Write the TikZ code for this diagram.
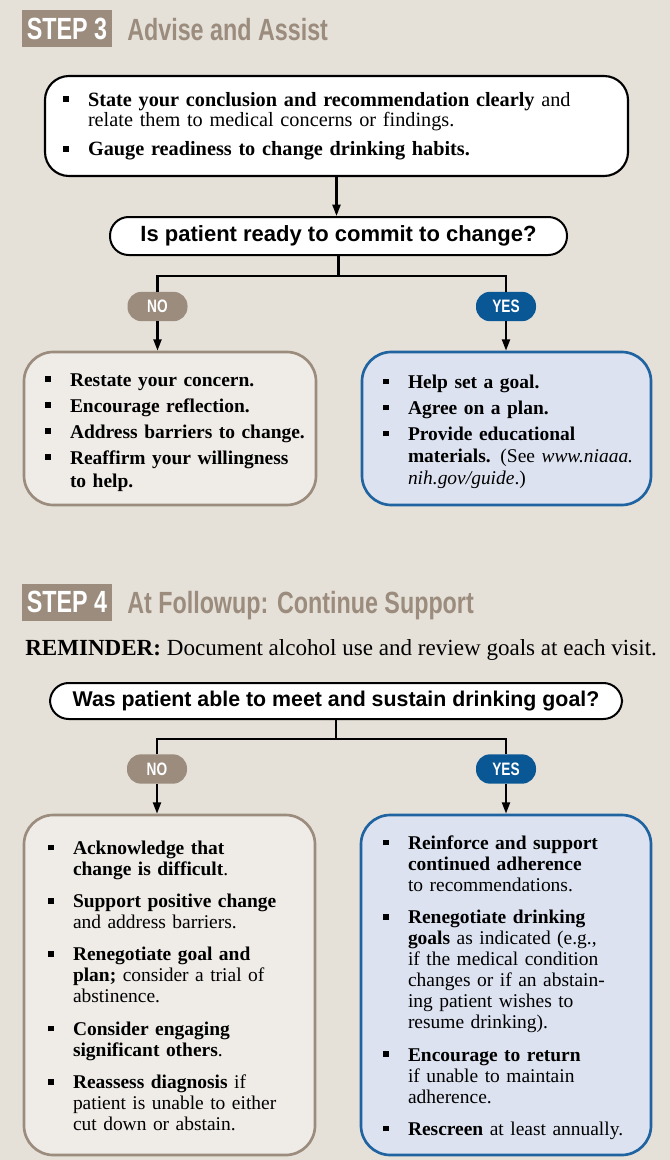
\documentclass[tikz,border=0pt]{standalone}
\usepackage{fontspec}
\setmainfont{Liberation Serif}
\newfontfamily\headfont[FakeStretch=0.76]{Liberation Sans}
\newfontfamily\askfont{Liberation Sans}
\usetikzlibrary{arrows.meta,positioning}
\definecolor{paper}{RGB}{229,225,217}
\definecolor{taupe}{RGB}{155,140,126}
\definecolor{navy}{RGB}{10,87,150}
\definecolor{nofill}{RGB}{239,236,232}
\definecolor{yesfill}{RGB}{220,226,239}
\definecolor{yesline}{RGB}{31,99,160}
\newcommand\bul{\makebox[18.75pt][l]{\raisebox{0.2em}{\rule{4.3pt}{4.3pt}}}}
\newcommand\itm[1]{\par\noindent\bul\begin{tabular}[t]{@{}l@{}}#1\end{tabular}}
\newcommand\gap[1]{\par\vspace{#1}}
\newcommand\bodyfont[1]{\fontsize{14.6pt}{#1}\selectfont}
\tikzset{
  tag/.style={fill=taupe, text=white, inner sep=0pt, minimum width=67.5pt, minimum height=27.75pt,
    font=\headfont\bfseries\fontsize{23pt}{26pt}\selectfont},
  headline/.style={text=taupe, inner sep=0pt, anchor=base west,
    font=\headfont\bfseries\fontsize{23pt}{26pt}\selectfont},
  ask/.style={draw, line width=1.5pt, fill=white, rounded corners=14pt, inner sep=0pt,
    font=\askfont\bfseries\fontsize{16.5pt}{18pt}\selectfont},
  pill/.style={text=white, rounded corners=10.5pt, inner sep=0pt, minimum width=45pt, minimum height=22pt,
    font=\headfont\bfseries\fontsize{13.5pt}{15pt}\selectfont},
  nopill/.style={pill, fill=taupe},
  yespill/.style={pill, fill=navy},
  panel/.style={align=left, inner ysep=0pt, rounded corners=22pt, line width=2pt},
  nopanel/.style={panel, draw=taupe, fill=nofill},
  yespanel/.style={panel, draw=yesline, fill=yesfill},
  link/.style={line width=1.6pt},
  into/.style={link, -{Triangle[length=8.5pt,width=6pt]}}
}
\begin{document}
\begin{tikzpicture}[x=0.75pt, y=-0.75pt]
%%%%% START %%%%%
\fill[paper] (0,0) rectangle (670,1160);
\useasboundingbox (0,0) rectangle (670,1160);

% step 3
\node[tag] (tag3) at (67,28.5) {STEP 3};
\node[headline] (title3) at (127,40) {Advise and Assist};

\node[panel, draw=black, fill=white, line width=1.6pt, rounded corners=18pt, inner xsep=13.5pt,
  text width=410.25pt, minimum height=75pt, font=\fontsize{15.2pt}{15pt}\selectfont] (advise) at (336.5,126) {%
  \itm{\textbf{State your conclusion and recommendation clearly} and\\relate them to medical concerns or findings.}\gap{6pt}
  \itm{\textbf{Gauge readiness to change drinking habits.}}\vspace{3pt}};

\node[ask, minimum width=342.75pt, minimum height=28.5pt] (q1) at (338.5,236) {Is patient ready to commit to change?};
\draw[into] (advise.south) -- (advise.south |- q1.north);

\node[nopill] (no1) at (157.5,306.5) {NO};
\node[yespill] (yes1) at (506,306.5) {YES};
\draw[link] (q1.south) -- ++(0,20) coordinate (fork1);
\draw[link] (no1.north) |- (fork1) -| (yes1.north);

\node[nopanel, inner xsep=15.75pt, text width=187.5pt, minimum height=114.75pt, font=\bodyfont{17.25pt}] (nobox1) at (170,428.5) {%
  \itm{\textbf{Restate your concern.}}\gap{2.25pt}
  \itm{\textbf{Encourage reflection.}}\gap{2.25pt}
  \itm{\textbf{Address barriers to change.}}\gap{2.25pt}
  \itm{\textbf{Reaffirm your willingness}\\\textbf{to help.}}};
\node[yespanel, inner xsep=15.75pt, text width=185.25pt, minimum height=114.75pt, font=\bodyfont{16.5pt}] (yesbox1) at (506.5,428.5) {%
  \itm{\textbf{Help set a goal.}}\gap{3pt}
  \itm{\textbf{Agree on a plan.}}\gap{3pt}
  \itm{\textbf{Provide educational}\\\textbf{materials.} (See \emph{www.niaaa.}\\\emph{nih.gov/guide}.)}};
\draw[into] (no1.south) -- (no1.south |- nobox1.north);
\draw[into] (yes1.south) -- (yes1.south |- yesbox1.north);

% step 4
\node[tag] (tag4) at (67,602) {STEP 4};
\node[headline] (title4) at (127,613) {At Followup: Continue Support};
\node[anchor=base west, inner sep=0pt, font=\fontsize{17.3pt}{20pt}\selectfont] (remind) at (25,655)
  {\textbf{REMINDER:} Document alcohol use and review goals at each visit.};

\node[ask, minimum width=429pt, minimum height=27pt, font=\askfont\bfseries\fontsize{16pt}{18pt}\selectfont] (q2) at (336,701)
  {Was patient able to meet and sustain drinking goal?};

\node[nopill] (no2) at (157,769) {NO};
\node[yespill] (yes2) at (506,769) {YES};
\draw[link] (q2.south) -- ++(0,19) coordinate (fork2);
\draw[link] (no2.north) |- (fork2) -| (yes2.north);

\node[nopanel, inner xsep=18pt, text width=182.25pt, minimum height=255pt, font=\bodyfont{15.75pt}] (nobox2) at (169.5,985) {%
  \itm{\textbf{Acknowledge that}\\\textbf{change is difficult}.}\gap{7.5pt}
  \itm{\textbf{Support positive change}\\and address barriers.}\gap{7.5pt}
  \itm{\textbf{Renegotiate goal and}\\\textbf{plan;} consider a trial of\\abstinence.}\gap{7.5pt}
  \itm{\textbf{Consider engaging}\\\textbf{significant others}.}\gap{7.5pt}
  \itm{\textbf{Reassess diagnosis} if\\patient is unable to either\\cut down or abstain.}};
\node[yespanel, inner xsep=16.5pt, text width=184.5pt, minimum height=255pt, font=\bodyfont{15.75pt}] (yesbox2) at (506,985) {%
  \itm{\textbf{Reinforce and support}\\\textbf{continued adherence}\\to recommendations.}\gap{7.5pt}
  \itm{\textbf{Renegotiate drinking}\\\textbf{goals} as indicated (e.g.,\\if the medical condition\\changes or if an abstain-\\ing patient wishes to\\resume drinking).}\gap{7.5pt}
  \itm{\textbf{Encourage to return}\\if unable to maintain\\adherence.}\gap{7.5pt}
  \itm{\textbf{Rescreen} at least annually.}};
\draw[into] (no2.south) -- (no2.south |- nobox2.north);
\draw[into] (yes2.south) -- (yes2.south |- yesbox2.north);
%%%%% END %%%%%
\end{tikzpicture}
\end{document}
